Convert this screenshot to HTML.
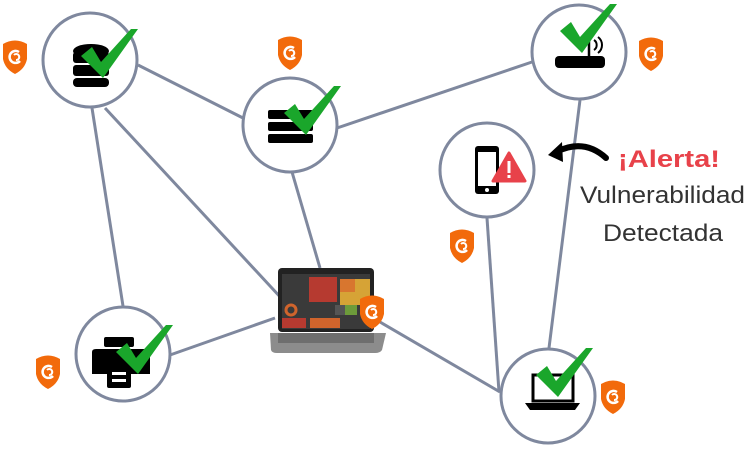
<!DOCTYPE html>
<html><head><meta charset="utf-8"><style>
html,body{margin:0;padding:0;background:#fff;width:746px;height:449px;overflow:hidden}
</style></head><body>
<svg width="746" height="449" viewBox="0 0 746 449" xmlns="http://www.w3.org/2000/svg">
<defs>
<g id="sh">
<path d="M-12,-13 Q0,-20 12,-13 L12,2 Q10,12 0,17 Q-10,12 -12,2 Z" fill="#f26a0b"/>
<path d="M4,-5 A6,6 0 1 0 5,4" fill="none" stroke="#fff" stroke-width="2.5"/>
<path d="M-1,-2 A3,3 0 1 1 1,3" fill="none" stroke="#fff" stroke-width="2"/>
</g>
<g id="ck"><path d="M-24,2 L-13,-7 L-4,8 L26,-25 L33,-25 L-2,24 Z" fill="#1aa62b"/></g>
</defs>
<g stroke="#7f889e" stroke-width="3" fill="none">
<line x1="138" y1="65" x2="243" y2="118"/>
<line x1="92" y1="108" x2="123" y2="306"/>
<line x1="105" y1="108" x2="283" y2="300"/>
<line x1="292" y1="172" x2="320" y2="268"/>
<line x1="337" y1="128" x2="532" y2="62"/>
<line x1="580" y1="100" x2="549" y2="348"/>
<line x1="487" y1="218" x2="499" y2="392"/>
<line x1="170" y1="355" x2="275" y2="318"/>
<line x1="380" y1="322" x2="500" y2="392"/>
</g>
<g stroke="#7f889e" stroke-width="3" fill="#fff">
<circle cx="90" cy="60" r="47"/>
<circle cx="290" cy="125" r="47"/>
<circle cx="579" cy="52" r="47"/>
<circle cx="487" cy="170" r="47"/>
<circle cx="123" cy="354" r="47"/>
<circle cx="548" cy="396" r="47"/>
</g>
<g fill="#000">
<ellipse cx="91" cy="51" rx="18" ry="7"/>
<rect x="73" y="52" width="36" height="11" rx="3"/>
<rect x="73" y="65" width="36" height="11" rx="3"/>
<rect x="73" y="78" width="36" height="9" rx="4"/>
</g>
<use href="#ck" x="105" y="54"/>
<g fill="#000">
<rect x="268" y="110" width="45" height="9" rx="2"/>
<rect x="268" y="122" width="45" height="9" rx="2"/>
<rect x="268" y="134" width="45" height="9" rx="2"/>
</g>
<use href="#ck" x="308" y="111"/>
<rect x="555" y="56" width="50" height="12" rx="4" fill="#000"/>
<path d="M589,56 L589,38" stroke="#000" stroke-width="2.5"/>
<path d="M594,40 a6,6 0 0 1 0,10 M598,37 a10,10 0 0 1 0,16" stroke="#000" stroke-width="2" fill="none"/>
<use href="#ck" x="584" y="29"/>
<rect x="475" y="146" width="24" height="48" rx="3" fill="#000"/>
<rect x="478" y="152" width="18" height="34" fill="#fff"/>
<circle cx="487" cy="190" r="2" fill="#fff"/>
<path d="M509,153 L525,181 L493,181 Z" fill="#e8424a" stroke="#e8424a" stroke-width="3" stroke-linejoin="round"/>
<rect x="507.5" y="161" width="3" height="12" fill="#fff"/><rect x="507.5" y="175" width="3" height="3" fill="#fff"/>
<g fill="#000">
<rect x="104" y="337" width="30" height="10" rx="2"/>
<path d="M92,352 Q92,349 96,349 L146,349 Q150,349 150,352 L150,374 L92,374 Z"/>
<rect x="107" y="365" width="24" height="23" rx="2"/>
</g>
<rect x="112" y="372" width="14" height="3" fill="#fff"/><rect x="112" y="379" width="14" height="3" fill="#fff"/>
<use href="#ck" x="140" y="350"/>
<rect x="533" y="375" width="40" height="26" fill="none" stroke="#000" stroke-width="3"/>
<path d="M525,403 L580,403 L575,410 L530,410 Z" fill="#000"/>
<use href="#ck" x="560" y="373"/>
<rect x="278" y="268" width="96" height="64" rx="4" fill="#222"/>
<rect x="282" y="274" width="88" height="55" fill="#3a3a3a"/>
<rect x="309" y="277" width="28" height="25" fill="#b63a30"/>
<rect x="340" y="279" width="30" height="26" fill="#d6a336"/>
<rect x="340" y="279" width="15" height="13" fill="#d8762f"/>
<rect x="335" y="305" width="10" height="10" fill="#555"/>
<rect x="345" y="305" width="12" height="10" fill="#6d9b3a"/>
<rect x="282" y="318" width="24" height="10" fill="#b63a30"/>
<rect x="310" y="318" width="30" height="10" fill="#d0642c"/>
<circle cx="291" cy="310" r="5" fill="none" stroke="#d0642c" stroke-width="3"/>
<path d="M270,333 L386,333 L382,350 Q380,353 375,353 L277,353 Q272,353 271,350 Z" fill="#8c8c8c"/>
<rect x="278" y="333" width="96" height="10" fill="#6e6e6e"/>
<use href="#sh" x="15" y="57"/>
<use href="#sh" x="290" y="53"/>
<use href="#sh" x="651" y="54"/>
<use href="#sh" x="462" y="246"/>
<use href="#sh" x="48" y="372"/>
<use href="#sh" x="613" y="397"/>
<use href="#sh" x="372" y="312"/>
<path d="M606,158 Q584,138 556,152" fill="none" stroke="#000" stroke-width="6" stroke-linecap="round"/>
<path d="M548,155 L562,142 L563,162 Z" fill="#000"/>
<text x="618" y="167" textLength="102" lengthAdjust="spacingAndGlyphs" font-family="Liberation Sans, sans-serif" font-weight="bold" font-size="24" fill="#e8424a">¡Alerta!</text>
<text x="580" y="203" textLength="165" lengthAdjust="spacingAndGlyphs" font-family="Liberation Sans, sans-serif" font-size="24" fill="#333" font-weight="300">Vulnerabilidad</text>
<text x="603" y="241" textLength="120" lengthAdjust="spacingAndGlyphs" font-family="Liberation Sans, sans-serif" font-size="24" fill="#333" font-weight="300">Detectada</text>
</svg>
</body></html>
